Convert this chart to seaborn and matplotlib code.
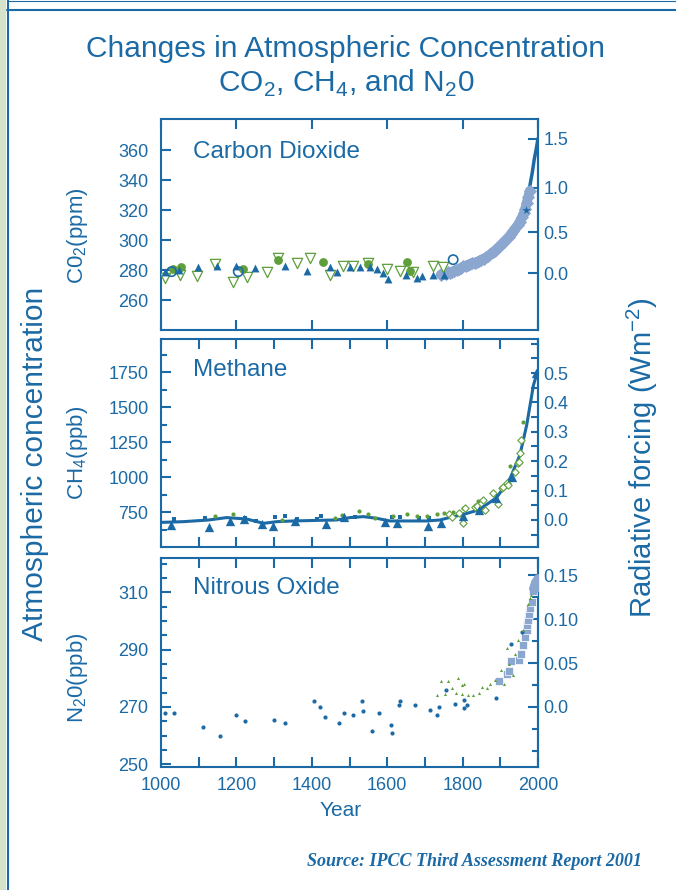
import matplotlib
matplotlib.use('Agg')
import numpy as np
import matplotlib.pyplot as plt
import seaborn as sns
from matplotlib.ticker import MultipleLocator
from matplotlib.patches import Rectangle
from matplotlib.lines import Line2D

blue = '#1b6aa5'
green = '#5f9f3b'
light = '#8ba7d0'

## Data

# carbon dioxide (ppm)
co2_tri_years = [1011, 1049, 1099, 1148, 1199, 1249, 1329, 1388, 1448, 1466, 1501, 1528, 1554, 1572,
                 1590, 1603, 1650, 1678, 1691, 1721, 1751]
co2_tri_vals = [279, 280, 282, 283, 283, 281.5, 283, 279.5, 282, 279, 282, 282, 282, 281,
                278, 274, 277, 275, 276, 277, 277]
co2_vtri_years = [1011, 1050, 1095, 1143, 1192, 1227, 1282, 1311, 1360, 1395, 1448, 1482, 1510, 1550,
                  1599, 1634, 1669, 1721, 1749]
co2_vtri_vals = [274.5, 276.5, 276, 284, 272, 275.5, 279, 288, 284.5, 288, 277, 283, 283, 284.5,
                 281, 279.5, 279, 283, 282]
co2_dot_years = [1033, 1052, 1218, 1311, 1431, 1550, 1652, 1660]
co2_dot_vals = [281, 282, 281, 287, 285.5, 284, 285.5, 279.5]
co2_ring_years = [1028, 1205, 1775]
co2_ring_vals = [279, 279, 287]
co2_ice_years = [1742, 1748, 1755, 1760, 1766, 1772, 1778, 1784, 1790, 1796, 1802, 1808, 1814, 1820,
                 1826, 1832, 1838, 1844, 1850, 1856, 1862, 1868, 1874, 1880, 1886, 1892, 1898, 1904,
                 1910, 1916, 1922, 1928, 1934, 1940, 1946, 1952, 1958, 1962, 1966, 1970, 1974, 1978]
co2_ice_vals = [277, 278, 277.5, 278.5, 278, 279, 279.5, 280, 281, 281.5, 282.5, 283, 283.5, 284,
                284.5, 285, 285.5, 286, 287, 287.5, 288.5, 289.5, 290.5, 292, 293, 294.5, 296, 297.5,
                299, 300.5, 302, 304, 306, 308, 310, 312.5, 315.5, 318, 321, 325, 329, 333]
co2_air_years = [1958, 1965, 1970, 1975, 1980, 1985, 1990, 1995, 2000]
co2_air_vals = [315, 320, 325.5, 331, 338.5, 345.5, 354, 360.5, 368]
co2_ticks = [260, 280, 300, 320, 340, 360]

# methane (ppb)
ch4_line_years = [1003, 1059, 1126, 1174, 1227, 1272, 1307, 1351, 1413, 1466, 1501, 1537, 1572,
                  1607, 1650, 1705, 1740, 1767, 1802, 1842, 1890, 1926, 1952, 1970, 1988, 1998]
ch4_line_vals = [676, 681, 693, 710, 700, 669, 681, 686, 690, 693, 710, 717, 705,
                 686, 686, 686, 693, 712, 733, 764, 852, 990, 1157, 1371, 1657, 1745]
ch4_tri_years = [1026, 1126, 1183, 1221, 1267, 1296, 1355, 1437, 1485, 1594, 1627, 1709, 1743,
                 1802, 1844, 1889, 1930, 1995]
ch4_tri_vals = [657, 645, 688, 698, 664, 652, 688, 664, 717, 681, 669, 650, 674,
                722, 764, 848, 1002, 1740]
ch4_sq_years = [1034, 1117, 1224, 1252, 1302, 1329, 1360, 1413, 1424, 1515, 1612, 1634, 1685, 1712]
ch4_sq_vals = [700, 710, 710, 686, 717, 724, 698, 698, 724, 717, 712, 717, 705, 710]
ch4_dot_years = [1143, 1190, 1320, 1462, 1479, 1526, 1550, 1568, 1616, 1652, 1678, 1705, 1731,
                 1751, 1775, 1802, 1842, 1926, 1961]
ch4_dot_vals = [721, 733, 693, 710, 729, 760, 736, 710, 721, 736, 721, 721, 733,
                740, 752, 776, 831, 1081, 1391]
ch4_dia_years = [1765, 1771, 1790, 1802, 1806, 1833, 1837, 1855, 1859, 1881, 1895, 1905, 1908,
                 1917, 1921, 1939, 1948, 1950, 1952, 1954]
ch4_dia_vals = [735, 717, 745, 669, 779, 788, 790, 836, 764, 883, 805, 919, 931,
                955, 943, 1038, 1098, 1109, 1170, 1264]
ch4_ticks = [750, 1000, 1250, 1500, 1750]

# nitrous oxide (ppb)
n2o_dot_years = [1011, 1034, 1112, 1156, 1198, 1223, 1300, 1329, 1407, 1422, 1434, 1471, 1486,
                 1509, 1534, 1535, 1560, 1577, 1609, 1613, 1630, 1633, 1674, 1714, 1733, 1737,
                 1755, 1779, 1804, 1803, 1811, 1888, 1928, 1957]
n2o_dot_vals = [268, 268, 263, 260, 267, 265, 265.5, 264.5, 272, 270, 266.5, 264.5, 268,
                267, 272, 268.5, 261.5, 268, 263.5, 261, 270.5, 272, 270.5, 269, 267, 270,
                276, 271, 272.5, 269.5, 270.5, 273, 292, 296]
n2o_grn_years = [1731, 1743, 1762, 1753, 1771, 1787, 1782, 1799, 1805, 1799, 1815, 1827, 1843,
                 1852, 1866, 1873, 1886, 1901, 1910, 1919, 1924, 1935, 1939, 1948, 1961, 1974,
                 1978, 1982]
n2o_grn_vals = [274, 279, 279, 274.5, 276.5, 280, 275, 277.5, 278, 274.5, 274, 274, 275,
                277, 276.5, 278, 279.5, 283, 278, 290.5, 285, 281, 288.5, 293.5, 297, 306,
                308, 309]
n2o_sq_years = [1897, 1917, 1924, 1928, 1950, 1954, 1961, 1965, 1970, 1971, 1974, 1976, 1979,
                1983, 1986]
n2o_sq_vals = [279, 281.5, 282.5, 286, 286.5, 288.5, 291.5, 294.5, 297, 298.5, 300.5, 302.5,
               304.5, 306.5, 310.5]
n2o_air_years = [1990, 1993, 1996, 1999]
n2o_air_vals = [311.5, 312.5, 313.5, 314.5]
n2o_ticks = [250, 270, 290, 310]

# radiative forcing ticks (right axes)
co2_rf_ticks = [0.0, 0.5, 1.0, 1.5]
ch4_rf_ticks = [0.0, 0.1, 0.2, 0.3, 0.4, 0.5]
n2o_rf_ticks = [0.0, 0.05, 0.10, 0.15]
n2o_rf_labels = ['0.0', '0.05', '0.10', '0.15']


## Style

sns.set_style('ticks')
plt.rcParams['font.family'] = ['Liberation Sans', 'DejaVu Sans']
plt.rcParams['mathtext.fontset'] = 'custom'
plt.rcParams['mathtext.rm'] = 'Liberation Sans'
plt.rcParams['text.color'] = blue
plt.rcParams['axes.edgecolor'] = blue
plt.rcParams['axes.linewidth'] = 1.5

fig = plt.figure(figsize=(6.76, 8.9), dpi=100)
W, H = 676, 890


def box(x0, y0, x1, y1):
    return [x0 / W, 1 - y1 / H, (x1 - x0) / W, (y1 - y0) / H]


ax1 = fig.add_axes(box(161, 119, 538, 330))
ax2 = fig.add_axes(box(161, 339, 538, 547))
ax3 = fig.add_axes(box(161, 558, 538, 767))

# page frame
fig.add_artist(Rectangle((0, 0), 6 / W, 1, transform=fig.transFigure, color='#d5e3cb', lw=0))
fig.add_artist(Line2D([7.5 / W, 7.5 / W], [0, 1], transform=fig.transFigure, color=blue, lw=1.5))
fig.add_artist(Line2D([7 / W, 1], [1 - 9.5 / H, 1 - 9.5 / H], transform=fig.transFigure, color=blue, lw=1.5))
fig.add_artist(Line2D([7 / W, 1], [1 - 0.5 / H, 1 - 0.5 / H], transform=fig.transFigure, color=blue, lw=0.8))

## 1. Carbon dioxide

sns.lineplot(x=co2_air_years, y=co2_air_vals, ax=ax1, color=blue, lw=2.5, zorder=2)
sns.lineplot(x=co2_ice_years, y=co2_ice_vals, ax=ax1, color=light, lw=7, zorder=3)
sns.scatterplot(x=co2_ice_years, y=co2_ice_vals, ax=ax1, marker='D', s=45, color=light, linewidth=0, zorder=3)
sns.scatterplot(x=[1967], y=[320], ax=ax1, marker='*', s=40, color=blue, linewidth=0, zorder=4)
sns.scatterplot(x=co2_vtri_years, y=co2_vtri_vals, ax=ax1, marker='v', s=55, color='white',
                edgecolor=green, linewidth=0.9, zorder=4)
sns.scatterplot(x=co2_dot_years, y=co2_dot_vals, ax=ax1, marker='o', s=40, color=green, linewidth=0, zorder=5)
sns.scatterplot(x=co2_ring_years, y=co2_ring_vals, ax=ax1, marker='o', s=45, color='none',
                edgecolor=blue, linewidth=1.2, zorder=5)
sns.scatterplot(x=co2_tri_years, y=co2_tri_vals, ax=ax1, marker='^', s=32, color=blue, linewidth=0, zorder=6)
ax1.set_ylim(240, 381)
ax1.set_yticks(co2_ticks)
ax1.xaxis.set_major_locator(MultipleLocator(200))

## 2. Methane

sns.lineplot(x=ch4_line_years, y=ch4_line_vals, ax=ax2, color=blue, lw=2.2, zorder=3)
sns.scatterplot(x=ch4_sq_years, y=ch4_sq_vals, ax=ax2, marker='s', s=10, color=blue, linewidth=0, zorder=4)
sns.scatterplot(x=ch4_dot_years, y=ch4_dot_vals, ax=ax2, marker='o', s=9, color=green, linewidth=0, zorder=4)
sns.scatterplot(x=ch4_dia_years, y=ch4_dia_vals, ax=ax2, marker='D', s=14, color='white',
                edgecolor=green, linewidth=0.8, zorder=4)
sns.scatterplot(x=ch4_tri_years, y=ch4_tri_vals, ax=ax2, marker='^', s=45, color=blue, linewidth=0, zorder=5)
ax2.set_ylim(500, 1986)
ax2.set_yticks(ch4_ticks)
ax2.yaxis.set_minor_locator(MultipleLocator(125))
ax2.xaxis.set_major_locator(MultipleLocator(100))

## 3. Nitrous oxide

sns.scatterplot(x=n2o_dot_years, y=n2o_dot_vals, ax=ax3, marker='o', s=9, color=blue, linewidth=0, zorder=4)
sns.scatterplot(x=n2o_grn_years, y=n2o_grn_vals, ax=ax3, marker='^', s=5, color=green, linewidth=0, zorder=4)
sns.scatterplot(x=n2o_sq_years, y=n2o_sq_vals, ax=ax3, marker='s', s=28, color=light,
                edgecolor='white', linewidth=0.5, zorder=3)
sns.scatterplot(x=n2o_air_years, y=n2o_air_vals, ax=ax3, marker='o', s=60, color=light, linewidth=0, zorder=3)
ax3.set_ylim(249, 322)
ax3.set_yticks(n2o_ticks)
ax3.yaxis.set_minor_locator(MultipleLocator(5))
ax3.xaxis.set_major_locator(MultipleLocator(200))
ax3.xaxis.set_minor_locator(MultipleLocator(100))

for ax in (ax1, ax2, ax3):
    ax.set_xlim(1000, 2000)
    ax.set(xlabel='', ylabel='')
    ax.set_facecolor('white')
    ax.tick_params(which='both', direction='in', top=True, bottom=True, left=True, right=False,
                   width=1.5, colors=blue, labelsize=13)
    ax.tick_params(which='major', length=7)
    ax.tick_params(which='minor', length=4)
    ax.tick_params(axis='x', which='minor', length=7)
    ax.tick_params(axis='y', pad=9)
    ax.tick_params(axis='x', pad=7)
ax1.tick_params(labelbottom=False)
ax2.tick_params(labelbottom=False)

## Right axes: radiative forcing


def co2_f(c):
    with np.errstate(all='ignore'):
        return 5.35 * np.log(np.asarray(c, float) / 278.0)


def co2_i(f):
    return 278.0 * np.exp(np.asarray(f, float) / 5.35)


sec1 = ax1.secondary_yaxis('right', functions=(co2_f, co2_i))
sec1.set_ticks(co2_rf_ticks, labels=[f'{t:.1f}' for t in co2_rf_ticks])
sec2 = ax2.secondary_yaxis('right', functions=(lambda m: (np.asarray(m, float) - 693) / 2100,
                                               lambda f: np.asarray(f, float) * 2100 + 693))
sec2.set_ticks(ch4_rf_ticks, labels=[f'{t:.1f}' for t in ch4_rf_ticks])
sec2.yaxis.set_minor_locator(MultipleLocator(0.05))
sec3 = ax3.secondary_yaxis('right', functions=(lambda n: (np.asarray(n, float) - 270) / 306,
                                               lambda f: np.asarray(f, float) * 306 + 270))
sec3.set_ticks(n2o_rf_ticks, labels=n2o_rf_labels)
sec3.yaxis.set_minor_locator(MultipleLocator(0.025))
for sec in (sec1, sec2, sec3):
    sec.spines['right'].set_color(blue)
    sec.spines['right'].set_linewidth(1.5)
    sec.tick_params(which='both', direction='in', width=1.5, colors=blue, labelsize=13, pad=4)
    sec.tick_params(which='major', length=7)
    sec.tick_params(which='minor', length=4)
sec2.tick_params(which='both', length=5)

## Text

ax1.text(0.085, 0.844, 'Carbon Dioxide', transform=ax1.transAxes, fontsize=17.5, va='center', color=blue)
ax2.text(0.085, 0.851, 'Methane', transform=ax2.transAxes, fontsize=17.5, va='center', color=blue)
ax3.text(0.085, 0.856, 'Nitrous Oxide', transform=ax3.transAxes, fontsize=17.5, va='center', color=blue)

fig.text(346 / W, 1 - 57 / H, 'Changes in Atmospheric Concentration', ha='center', va='baseline',
         fontsize=21.5, color=blue)
fig.text(346 / W, 1 - 92 / H, r'CO$_\mathregular{2}$, CH$_\mathregular{4}$, and N$_\mathregular{2}$0',
         ha='center', va='baseline', fontsize=21.5, color=blue)

fig.text(78 / W, 1 - 236 / H, r'C0$_\mathregular{2}$(ppm)', rotation=90, ha='center', va='center',
         fontsize=16, color=blue)
fig.text(77 / W, 1 - 453 / H, r'CH$_\mathregular{4}$(ppb)', rotation=90, ha='center', va='center',
         fontsize=16, color=blue)
fig.text(77 / W, 1 - 678 / H, r'N$_\mathregular{2}$0(ppb)', rotation=90, ha='center', va='center',
         fontsize=16, color=blue)
fig.text(35 / W, 1 - 464 / H, 'Atmospheric concentration', rotation=90, ha='center', va='center',
         fontsize=21.5, color=blue)
fig.text(642 / W, 1 - 458 / H, r'Radiative forcing (Wm$^\mathregular{-2}$)', rotation=90, ha='center',
         va='center', fontsize=21, color=blue)
fig.text(341 / W, 1 - 810 / H, 'Year', ha='center', va='center', fontsize=15, color=blue)
fig.text(642 / W, 1 - 862 / H, 'Source: IPCC Third Assessment Report 2001', ha='right', va='center',
         fontsize=13, family='Liberation Serif', style='italic', weight='bold', color=blue)

plt.savefig('out.png', dpi=100)
